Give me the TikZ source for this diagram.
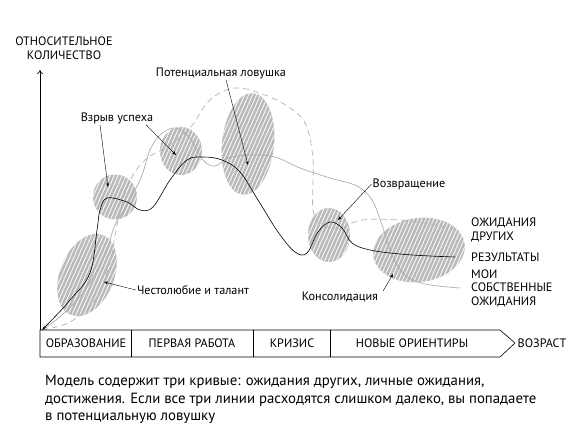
\documentclass[tikz,border=0pt]{standalone}
\usepackage{fontspec}
\setmainfont{PT Sans}
\usepackage{tikz}
\usetikzlibrary{arrows.meta}
\usetikzlibrary{shapes.geometric}
\usetikzlibrary{patterns.meta}
\tikzset{
  blob/.style={ellipse,draw=none,inner sep=0pt,fill=gray!55,
    postaction={pattern={Lines[angle=66,distance=3.6pt,line width=1pt]},pattern color=white!92!gray}},
  lbl/.style={font=\fontsize{12.2}{13.5}\selectfont,inner sep=1pt},
  tagtext/.style={font=\fontsize{12.2}{14}\selectfont,inner sep=1pt},
  note/.style={draw,thin,-{Stealth[length=4pt,width=3pt]}},
  band/.style={draw,line width=0.6pt}
}
\begin{document}
\begin{tikzpicture}[x=1pt,y=-1pt]
\useasboundingbox (0,0) rectangle (573,441);

	\node[blob,minimum width=54pt,minimum height=86pt,rotate=-22] (amb)  at (87,275) {};
	\node[blob,minimum width=44pt,minimum height=45pt] (boomA) at (115,197) {};
	\node[blob,minimum width=42pt,minimum height=48pt] (boomB) at (181,151) {};
	\node[blob,minimum width=52pt,minimum height=102pt,rotate=-6] (trap) at (248,144) {};
	\node[blob,minimum width=42pt,minimum height=54pt] (back) at (329,235) {};
	\node[blob,minimum width=92pt,minimum height=64pt,rotate=8] (cons) at (419,250) {};

	\draw[gray!60,dash pattern=on 6pt off 4pt,line width=0.7pt] plot[smooth,tension=0.6] coordinates {(42,330) (70,322) (95,300) (110,262) (117,225) (128,185) (145,160) (170,145) (190,128) (210,100) (235,88) (265,95) (290,108) (306,125) (313,160) (313,210) (322,225) (340,228) (362,220) (400,220) (430,224) (458,230)};
	\draw[gray!65,line width=0.7pt] plot[smooth,tension=0.6] coordinates {(42,330) (62,315) (85,290) (105,255) (115,225) (130,200) (142,175) (150,150) (160,135) (175,128) (190,138) (203,160) (215,166) (228,158) (250,155) (275,157) (300,168) (330,178) (357,186) (372,200) (382,225) (392,255) (405,275) (425,284) (460,288)};
	\draw[black,line width=0.6pt,{Stealth[length=5pt,width=3pt]}-] plot[smooth,tension=0.6] coordinates {(42,330) (70,300) (90,273) (97,230) (100,210) (107,198) (127,202) (140,210) (153,207) (170,180) (187,160) (203,157) (222,160) (240,172) (258,200) (278,232) (295,252) (307,253) (318,232) (330,222) (342,228) (352,243) (370,250) (400,254) (430,256) (455,257)};

	\draw[line width=0.6pt,-{To[length=4pt,width=6pt]}] (40,330) -- (40,70) coordinate (ytop);
	\node[lbl,align=center] (ylab) at (64,48) {ОТНОСИТЕЛЬНОЕ\\КОЛИЧЕСТВО};

	\coordinate (b1) at (40,330);
	\coordinate (b2) at (500,330);
	\coordinate (b3) at (515,343);
	\coordinate (b4) at (500,357);
	\coordinate (b5) at (40,357);
	\draw[band] (b1) -- (b2) -- (b3) -- (b4) -- (b5) -- cycle;
	\draw[band] (131,330) -- (131,357);
	\draw[band] (253,330) -- (253,357);
	\draw[band] (330,330) -- (330,357);
	\node[lbl] (edu)    at (86,343)  {ОБРАЗОВАНИЕ};
	\node[lbl] (job)    at (192,343) {ПЕРВАЯ РАБОТА};
	\node[lbl] (crisis) at (292,343) {КРИЗИС};
	\node[lbl] (newdir) at (412,343) {НОВЫЕ ОРИЕНТИРЫ};
	\node[lbl] (age)    at (542,343) {ВОЗРАСТ};

	\node[tagtext] (lblTrap) at (221,73)  {Потенциальная ловушка};
	\node[tagtext] (lblBoom) at (117,118) {Взрыв успеха};
	\node[tagtext] (lblBack) at (409,184) {Возвращение};
	\node[tagtext] (lblCons) at (340,297) {Консолидация};
	\node[tagtext] (lblAmb)  at (193,290) {Честолюбие и талант};

	\draw[note] ([xshift=5pt]lblTrap.south) -- ([yshift=-21pt]trap.center);
	\draw[note] ([xshift=-17pt]lblBoom.south) -- ([xshift=-7pt,yshift=10pt]boomA.center);
	\draw[note] ([xshift=29pt]lblBoom.south) -- ([xshift=-5pt,yshift=-4pt]boomB.center);
	\draw[note] (lblBack.west) -- ([xshift=9pt,yshift=15pt]back.center);
	\draw[note] ([xshift=4pt]lblCons.north east) -- ([xshift=-26pt,yshift=-24pt]cons.center);
	\draw[note] (lblAmb.west) -- ([xshift=17pt,yshift=-7pt]amb.center);

	\node[lbl,anchor=west,align=left] (others) at (470,230) {ОЖИДАНИЯ\\ДРУГИХ};
	\node[lbl,anchor=west] (results) at (470,257) {РЕЗУЛЬТАТЫ};
	\node[lbl,anchor=west,align=left] (mine) at (470,288) {МОИ\\СОБСТВЕННЫЕ\\ОЖИДАНИЯ};

	\node[anchor=north west,align=left,inner sep=0pt,font=\fontsize{14.8}{17.5}\selectfont] (caption) at (45,375)
	{Модель содержит три кривые: ожидания других, личные ожидания,\\
	 достижения. Если все три линии расходятся слишком далеко, вы попадаете\\
	 в потенциальную ловушку};

\end{tikzpicture}
\end{document}
